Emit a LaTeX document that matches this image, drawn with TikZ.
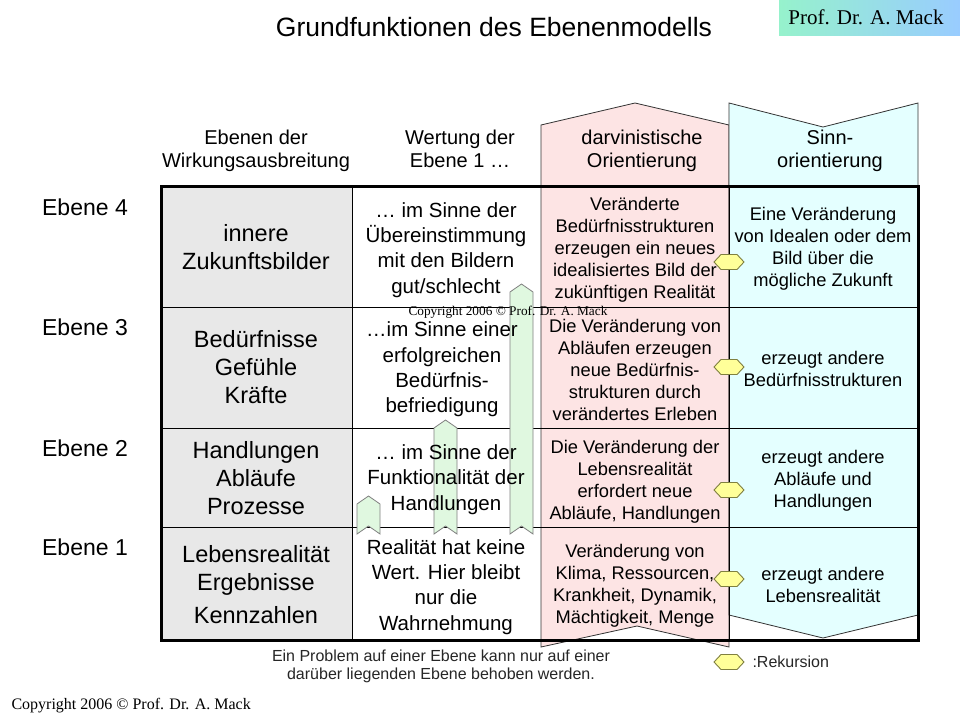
\documentclass[tikz,border=0pt]{standalone}
\usepackage{fontspec}
\setmainfont{Liberation Sans}
\newfontfamily\timesf{Liberation Serif}
\newcommand\myfs[2]{\fontsize{#1}{#2}\selectfont}
\definecolor{pinkfill}{RGB}{253,228,228}
\definecolor{cyanfill}{RGB}{228,255,255}
\definecolor{greyfill}{RGB}{232,232,232}
\definecolor{greenfill}{RGB}{224,248,224}
\definecolor{hexfill}{RGB}{255,255,153}
\definecolor{hexdraw}{RGB}{128,128,64}
\begin{document}
\begin{tikzpicture}[x=1pt,y=-1pt,
  hdr/.style={font=\myfs{20}{23}, align=center},
  lvl/.style={font=\myfs{23}{26}},
  cone/.style={font=\myfs{23.5}{28}, align=center},
  ctwo/.style={font=\myfs{20.5}{25.3}, align=center},
  cthree/.style={font=\myfs{18.3}{22}, align=center},
  greenarrow/.style={fill=greenfill, draw=black!50, line width=0.8pt},
  hexa/.style={fill=hexfill, draw=hexdraw, line width=0.9pt},
  thin grid/.style={draw=black, line width=0.9pt}]
\useasboundingbox[fill=white] (0,0) rectangle (960,720);

% author box
\shade[left color={rgb,255:red,150;green,242;blue,204}, right color={rgb,255:red,153;green,204;blue,255}] (779,0) rectangle (960,35);
\node[font=\timesf\myfs{21}{24}] (author) at (866,17) {Prof. Dr. A. Mack};

% title
\node[font=\myfs{26.5}{30}] (title) at (494,27) {Grundfunktionen des Ebenenmodells};

% first column grey
\fill[greyfill] (161,186) rectangle (352,640);

% pink upward arrow
\filldraw[fill=pinkfill, draw=black!80, line width=0.8pt]
  (541,125) -- (635,103) -- (729,125) -- (729,647) -- (637,626) -- (541,647) -- cycle;
% cyan downward arrow
\filldraw[fill=cyanfill, draw=black!80, line width=0.8pt]
  (729,103) -- (823,127) -- (918,103) -- (918,615) -- (823,638) -- (729,615) -- cycle;

% grid
\draw[thin grid] (161,307) -- (918,307);
\draw[thin grid] (161,428) -- (918,428);
\draw[thin grid] (161,527) -- (918,527);
\draw[thin grid] (352,186) -- (352,640);
\draw[thin grid] (729,186) -- (729,640);

% green arrows
\filldraw[greenarrow] (357,534) -- (357,504) -- (368.5,496) -- (380,504) -- (380,534) -- (368.5,526) -- cycle;
\filldraw[greenarrow] (434,534) -- (434,428) -- (445.5,420) -- (457,428) -- (457,534) -- (445.5,526) -- cycle;
\filldraw[greenarrow] (510,534) -- (510,292) -- (521.5,284) -- (533,292) -- (533,534) -- (521.5,526) -- cycle;

% outer border
\draw[line width=3pt] (161,186) rectangle (918,640);

% hexagons (recursion)
\foreach \hy in {262,367,490,579,662}{
  \filldraw[hexa] (729,\hy) +(-15,0) -- +(-8,-7.5) -- +(8,-7.5) -- +(15,0) -- +(8,7.5) -- +(-8,7.5) -- cycle;
}

% headers
\node[hdr] (hA) at (256,151) {Ebenen der\\Wirkungsausbreitung};
\node[hdr] (hB) at (460,149) {Wertung der\\Ebene 1 …};
\node[hdr] (hC) at (642,151) {darvinistische\\Orientierung};
\node[hdr] (hD) at (830,151) {Sinn-\\orientierung};

% level labels
\node[lvl] (l4) at (85,207) {Ebene 4};
\node[lvl] (l3) at (85,327) {Ebene 3};
\node[lvl] (l2) at (85,448) {Ebene 2};
\node[lvl] (l1) at (85,547) {Ebene 1};

% column 1
\node[cone] (c14) at (256,247) {innere\\Zukunftsbilder};
\node[cone] (c13) at (256,367) {Bedürfnisse\\Gefühle\\Kräfte};
\node[cone] (c12) at (256,478) {Handlungen\\Abläufe\\Prozesse};
\node[cone] (c11) at (256,585) {Lebensrealität\\Ergebnisse\\[5pt]Kennzahlen};

% column 2
\node[ctwo] (c24) at (446,250) {… im Sinne der\\Übereinstimmung\\mit den Bildern\\gut/schlecht};
\node[ctwo] (c23) at (442,369.5) {…im Sinne einer\\erfolgreichen\\Bedürfnis-\\befriedigung};
\node[ctwo] (c22) at (446,479.5) {… im Sinne der\\Funktionalität der\\Handlungen};
\node[ctwo] (c21) at (446,587) {Realität hat keine\\Wert. Hier bleibt\\nur die\\Wahrnehmung};

% column 3 (pink)
\node[cthree] (c34) at (635,250) {Veränderte\\Bedürfnisstrukturen\\erzeugen ein neues\\idealisiertes Bild der\\zukünftigen Realität};
\node[cthree] (c33) at (635,370) {Die Veränderung von\\Abläufen erzeugen\\neue Bedürfnis-\\strukturen durch\\verändertes Erleben};
\node[cthree] (c32) at (635,481.5) {Die Veränderung der\\Lebensrealität\\erfordert neue\\Abläufe, Handlungen};
\node[cthree] (c31) at (635,586) {Veränderung von\\Klima, Ressourcen,\\Krankheit, Dynamik,\\Mächtigkeit, Menge};

% column 4 (cyan)
\node[cthree] (c44) at (823,248.5) {Eine Veränderung\\von Idealen oder dem\\Bild über die\\mögliche Zukunft};
\node[cthree] (c43) at (823,368.5) {erzeugt andere\\Bedürfnisstrukturen};
\node[cthree] (c42) at (823,480.5) {erzeugt andere\\Abläufe und\\Handlungen};
\node[cthree] (c41) at (823,585) {erzeugt andere\\Lebensrealität};

% small copyright in the middle
\node[font=\timesf\myfs{13.3}{15}] (cpm) at (508,312) {Copyright 2006 © Prof. Dr. A. Mack};

% note and legend
\node[font=\myfs{16}{18}, align=center, text=black!85] (note) at (441,666) {Ein Problem auf einer Ebene kann nur auf einer\\darüber liegenden Ebene behoben werden.};
\node[font=\myfs{16}{18}, anchor=west, text=black!85] (leg) at (749,662) {:Rekursion};

% bottom copyright
\node[font=\timesf\myfs{16}{18}, anchor=west] (cpb) at (8,706) {Copyright 2006 © Prof. Dr. A. Mack};
\end{tikzpicture}
\end{document}
